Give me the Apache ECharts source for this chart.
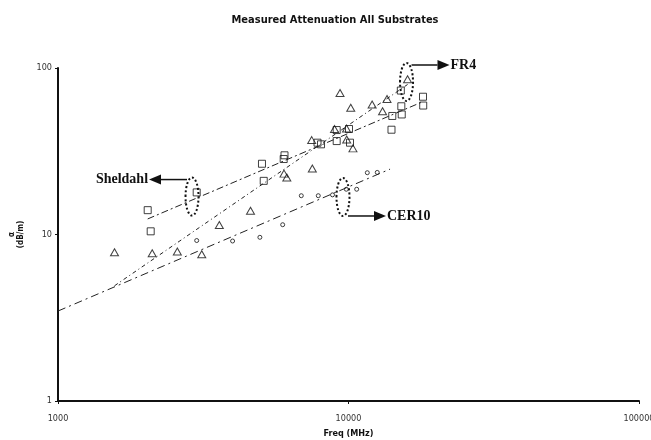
<!DOCTYPE html>
<html>
<head>
<meta charset="utf-8">
<script src="https://cdn.jsdelivr.net/npm/echarts@6/dist/echarts.min.js"></script>
<style>
  html, body { margin: 0; padding: 0; background: #fff; }
  #chart { width: 651px; height: 440px; }
</style>
</head>
<body>
<div id="chart"></div>
<script>
// Axis ticks (log scale, MHz and dB/m)
const xTicks = [1000, 10000, 100000];
const yTicks = [1, 10, 100];

// Sheldahl substrate measurements (squares)
const sheldahlFreq = [2036, 2085, 3002, 5037, 5107, 6022, 5983, 7823, 8043, 9107, 10040, 9107, 10120, 14060, 14150, 15250, 15200, 15140, 18050, 18080];
const sheldahlAtt  = [14.0, 10.45, 17.9, 26.6, 21.0, 29.9, 28.4, 35.6, 34.8, 42.4, 43.0, 36.4, 35.6, 42.6, 51.5, 52.6, 58.9, 73.2, 67.2, 59.5];

// FR4 substrate measurements (triangles)
const fr4Freq = [1565, 2110, 2575, 3125, 3592, 4599, 5998, 6133, 7470, 7507, 8950, 9350, 9843, 9858, 10180, 10360, 12060, 13100, 13570, 15970];
const fr4Att  = [7.82, 7.71, 7.90, 7.61, 11.4, 13.9, 23.2, 22.0, 36.9, 24.9, 43.0, 70.8, 43.3, 37.2, 57.7, 32.9, 60.4, 55.0, 65.1, 85.6];

// CER10 substrate measurements (circles)
const cer10Freq = [3002, 3990, 4954, 5935, 6878, 7870, 8810, 9826, 10670, 11607, 12560];
const cer10Att  = [9.2, 9.14, 9.62, 11.45, 17.1, 17.1, 17.3, 18.7, 18.7, 23.5, 23.6];

// Power-law trend lines, end points [freq, attenuation]
const sheldahlTrend = [[2036, 12.4], [18080, 62.9]];
const fr4Trend      = [[1565, 4.92], [15970, 79.6]];
const cer10Trend    = [[1000, 3.47], [13900, 24.7]];

// Callouts: ellipse centre in data units and label text
const callouts = [
  { name: 'Sheldahl', at: [2893, 16.9], side: 'left',  dy: -17 },
  { name: 'FR4',      at: [15840, 82.4], side: 'right', dy: -17 },
  { name: 'CER10',    at: [9572, 16.8], side: 'right', dy: 19 }
];

const pairs = (xs, ys) => xs.map((x, i) => [x, ys[i]]);

const sansNarrow = '"Liberation Sans Narrow", "DejaVu Sans Condensed", "Liberation Sans", Arial, sans-serif';
const hollow = { color: 'rgba(0,0,0,0)', borderColor: '#111', borderWidth: 1 };
const trendStyle = (dash) => ({ color: '#222', width: 1, type: dash });

const chart = echarts.init(document.getElementById('chart'), null, { renderer: 'canvas' });

const option = {
  animation: false,
  backgroundColor: '#fff',
  title: {
    text: 'Measured Attenuation All Substrates',
    left: 330, top: 10, textAlign: 'center',
    textStyle: { fontFamily: sansNarrow, fontWeight: 'bold', fontSize: 11, color: '#111' }
  },
  grid: { left: 58, right: 12, top: 68, bottom: 39, containLabel: false, outerBoundsMode: 'none' },
  xAxis: {
    type: 'log', logBase: 10, min: xTicks[0], max: xTicks[xTicks.length - 1],
    name: 'Freq (MHz)', nameLocation: 'middle', nameGap: 28,
    nameTextStyle: { fontFamily: sansNarrow, fontWeight: 'bold', fontSize: 9, color: '#111' },
    axisLine: { lineStyle: { color: '#111', width: 2 } },
    axisTick: { show: true, length: 3, lineStyle: { color: '#111', width: 1 } },
    minorTick: { show: false },
    splitLine: { show: false },
    axisLabel: {
      fontFamily: sansNarrow, fontSize: 9, color: '#333', margin: 13,
      formatter: (v) => String(xTicks.find(t => Math.abs(t - v) / t < 1e-6) ?? '')
    }
  },
  yAxis: {
    type: 'log', logBase: 10, min: yTicks[0], max: yTicks[yTicks.length - 1],
    name: 'α\n(dB/m)', nameLocation: 'middle', nameGap: 30, nameRotate: 90,
    nameTextStyle: { fontFamily: sansNarrow, fontWeight: 'bold', fontSize: 8, color: '#111', lineHeight: 9 },
    axisLine: { show: true, lineStyle: { color: '#111', width: 2 } },
    axisTick: { show: true, length: 3, lineStyle: { color: '#111', width: 1 } },
    splitLine: { show: false },
    axisLabel: {
      fontFamily: sansNarrow, fontSize: 9, color: '#333', margin: 6,
      formatter: (v) => String(yTicks.find(t => Math.abs(t - v) / t < 1e-6) ?? '')
    }
  },
  series: [
    { name: 'Sheldahl trend', type: 'line', data: sheldahlTrend, showSymbol: false, silent: true,
      lineStyle: trendStyle([7, 3, 2, 3]) },
    { name: 'FR4 trend', type: 'line', data: fr4Trend, showSymbol: false, silent: true,
      lineStyle: trendStyle([4, 3, 1, 3]) },
    { name: 'CER10 trend', type: 'line', data: cer10Trend, showSymbol: false, silent: true,
      lineStyle: trendStyle([8, 4, 2, 4]) },
    { name: 'Sheldahl', type: 'scatter', symbol: 'rect', symbolSize: 7,
      data: pairs(sheldahlFreq, sheldahlAtt), itemStyle: hollow },
    { name: 'FR4', type: 'scatter', symbol: 'triangle', symbolSize: [8, 7],
      data: pairs(fr4Freq, fr4Att), itemStyle: hollow },
    { name: 'CER10', type: 'scatter', symbol: 'circle', symbolSize: 4,
      data: pairs(cer10Freq, cer10Att), itemStyle: hollow }
  ]
};

chart.setOption(option);

// Dotted ellipses with arrows pointing to the substrate names
const graphics = [];
callouts.forEach((c) => {
  const [cx, cy] = chart.convertToPixel({ gridIndex: 0 }, c.at);
  const rx = 6.5, ry = 19;
  graphics.push({
    type: 'ellipse', silent: true,
    shape: { cx, cy, rx, ry },
    style: { fill: null, stroke: '#111', lineWidth: 2, lineDash: [2, 2.2], lineCap: 'butt' }
  });
  const y = cy + c.dy;
  const dir = c.side === 'left' ? -1 : 1;
  const x0 = cx + dir * 5;
  const tip = cx + dir * 43;
  const headLen = 12, headHalf = 5;
  graphics.push({
    type: 'line', silent: true,
    shape: { x1: x0, y1: y, x2: tip - dir * headLen, y2: y },
    style: { stroke: '#111', lineWidth: 1.5 }
  });
  graphics.push({
    type: 'polygon', silent: true,
    shape: { points: [[tip, y], [tip - dir * headLen, y - headHalf], [tip - dir * headLen, y + headHalf]] },
    style: { fill: '#111' }
  });
  graphics.push({
    type: 'text', silent: true,
    x: tip + dir * 1, y: y,
    style: {
      text: c.name, fill: '#111',
      font: 'bold 14px "Liberation Serif", "DejaVu Serif", serif',
      align: c.side === 'left' ? 'right' : 'left', verticalAlign: 'middle'
    }
  });
});
chart.setOption({ graphic: graphics });
</script>
</body>
</html>
